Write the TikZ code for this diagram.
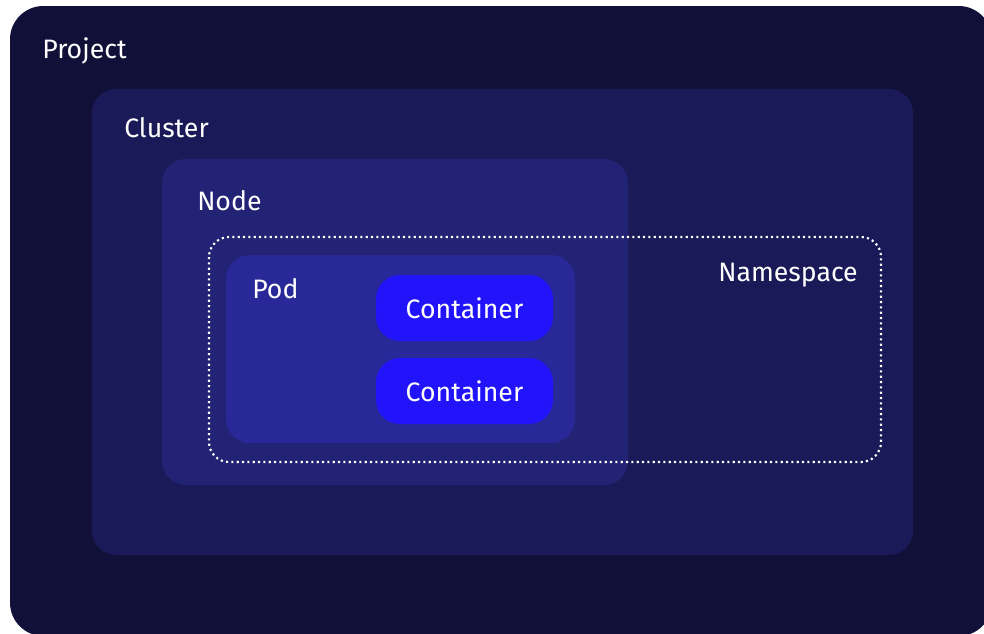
\documentclass[tikz,border=0pt]{standalone}
\usepackage{fontspec}
\setmainfont{Fira Sans}
\usepackage{tikz}
\usetikzlibrary{positioning}
\definecolor{projectbg}{RGB}{16,16,56}
\definecolor{clusterbg}{RGB}{27,26,88}
\definecolor{nodebg}{RGB}{35,35,118}
\definecolor{podbg}{RGB}{40,40,152}
\definecolor{ctrbg}{RGB}{34,20,250}
\tikzset{
  lbl/.style={anchor=base west,inner sep=0pt,text=white,font=\fontsize{20}{24}\selectfont},
  ctr/.style={fill=ctrbg,rounded corners=18,minimum width=177*0.75pt,minimum height=66*0.75pt,inner sep=0pt,text=white,font=\fontsize{20}{24}\selectfont}
}

\begin{document}
\begin{tikzpicture}[x=0.75pt,y=-0.75pt]
\useasboundingbox (0,0) rectangle (984,633);
\fill[white] (0,0) rectangle (984,633);
\begin{scope}
\clip (0,0) rectangle (984,633);
% nested areas
\fill[projectbg,rounded corners=25] (10,6) rectangle (992,636);
\fill[clusterbg,rounded corners=18] (92,89) rectangle (913,555);
\fill[nodebg,rounded corners=18] (162,159) rectangle (628,485);
\fill[podbg,rounded corners=18] (226,255) rectangle (575,443);
\end{scope}
% namespace boundary
\draw[white,line width=1.6pt,dash pattern=on 1.6pt off 2.4pt,rounded corners=15] (209,237) rectangle (881,462);
\node[lbl] (project) at (42,58) {Project};
\node[lbl] (cluster) at (124,137) {Cluster};
\node[lbl] (node) at (197,210) {Node};
\node[lbl] (pod) at (252,298) {Pod};
\node[lbl,anchor=base east] (ns) at (858,281) {Namespace};
\node[ctr] (ctrA) at (464.5,308) {Container};
\node[ctr] (ctrB) at (464.5,391) {Container};
\end{tikzpicture}
\end{document}
